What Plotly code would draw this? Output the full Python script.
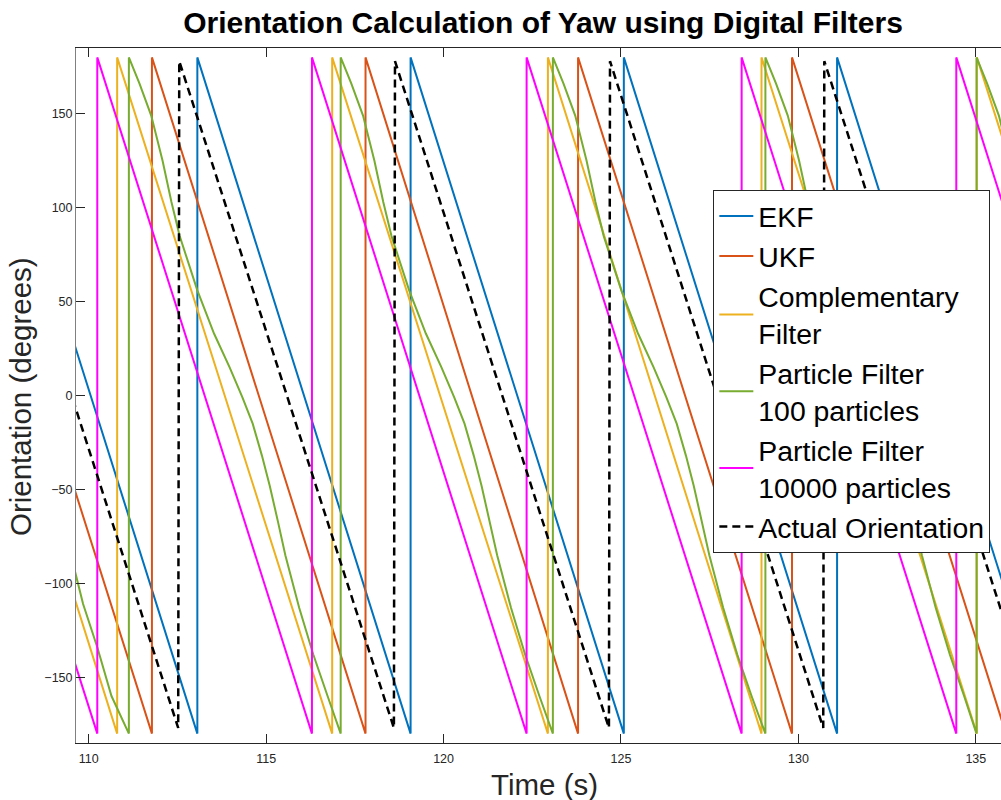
import plotly.graph_objects as go

# ---------------- data ----------------
ekf_t = [109.55, 113.06, 113.06, 119.07, 119.07, 125.08, 125.08, 131.09, 131.09, 137.10]
ekf_y = [30, -180, 180, -180, 180, -180, 180, -180, 180, -180]

ukf_t = [109.55, 111.78, 111.78, 117.80, 117.80, 123.79, 123.79, 129.82, 129.82, 135.85]
ukf_y = [-47, -180, 180, -180, 180, -180, 180, -180, 180, -180]

comp_t = [109.55, 110.80, 110.80, 116.86, 116.86, 122.94, 122.94, 128.96, 128.96, 135.03, 135.03, 141.08]
comp_y = [-105, -180, 180, -180, 180, -180, 180, -180, 180, -180, 180, -180]

pf100_t = [109.55, 109.84, 110.24, 110.64, 111.13,
           111.13, 111.43, 111.76, 112.08, 112.33, 112.56, 113.06, 113.53, 113.97, 114.33, 114.62, 114.88, 115.10, 115.33, 115.54, 115.93, 116.33, 116.73, 117.10,
           117.10, 117.40, 117.73, 118.05, 118.30, 118.53, 119.03, 119.50, 119.94, 120.30, 120.59, 120.85, 121.07, 121.30, 121.51, 121.90, 122.30, 122.70, 123.08,
           123.08, 123.38, 123.71, 124.03, 124.28, 124.51, 125.01, 125.48, 125.92, 126.28, 126.57, 126.83, 127.05, 127.28, 127.49, 127.88, 128.28, 128.68, 129.07,
           129.07, 129.37, 129.70, 130.02, 130.27, 130.50, 131.00, 131.47, 131.91, 132.27, 132.56, 132.82, 133.04, 133.27, 133.48, 133.87, 134.27, 134.67, 135.02,
           135.02, 135.32, 135.65, 135.97, 136.22, 136.45]
pf100_y = [-89, -111, -134, -160, -180,
           180, 166, 149, 125, 103, 85, 56, 33, 15, -1, -15, -32, -48, -67, -85, -113, -138, -160, -180,
           180, 166, 149, 125, 103, 85, 56, 33, 15, -1, -15, -32, -48, -67, -85, -113, -138, -160, -180,
           180, 166, 149, 125, 103, 85, 56, 33, 15, -1, -15, -32, -48, -67, -85, -113, -138, -160, -180,
           180, 166, 149, 125, 103, 85, 56, 33, 15, -1, -15, -32, -48, -67, -85, -113, -138, -160, -180,
           180, 166, 149, 125, 103, 85]

pf10k_t = [109.55, 110.24, 110.24, 116.29, 116.29, 122.34, 122.34, 128.40, 128.40, 134.45, 134.45, 140.50]
pf10k_y = [-139, -180, 180, -180, 180, -180, 180, -180, 180, -180, 180, -180]

act_t = [109.55, 112.52, 112.55, 118.60, 118.63, 124.66, 124.69, 130.70, 130.73, 136.78]
act_y = [-2, -177, 178, -177, 178, -177, 178, -177, 178, -177]

x_ticks = [110, 115, 120, 125, 130, 135]
y_ticks = [-150, -100, -50, 0, 50, 100, 150]

series = [
    ("EKF", ekf_t, ekf_y, "#0072BD", "solid", 2),
    ("UKF", ukf_t, ukf_y, "#D95319", "solid", 2),
    ("Complementary<br>Filter", comp_t, comp_y, "#EDB120", "solid", 2),
    ("Particle Filter<br>100 particles", pf100_t, pf100_y, "#77AC30", "solid", 2),
    ("Particle Filter<br>10000 particles", pf10k_t, pf10k_y, "#FF00FF", "solid", 2),
    ("Actual Orientation", act_t, act_y, "#000000", "8px,5px", 2.5),
]

FONT = "Liberation Sans, Arial, sans-serif"

fig = go.Figure()
for name, t, y, c, d, w in series:
    fig.add_trace(go.Scatter(x=t, y=y, mode="lines", name=name,
                             line=dict(color=c, width=w, dash=d)))

fig.update_layout(
    width=1001, height=800,
    margin=dict(l=76, r=0, t=48, b=57),
    paper_bgcolor="white", plot_bgcolor="white",
    font=dict(family=FONT, color="#262626"),
    title=dict(text="<b>Orientation Calculation of Yaw using Digital Filters</b>",
               x=0.5425, xref="container", xanchor="center",
               y=0.972, yref="container", yanchor="middle",
               font=dict(family=FONT, size=30, color="#000000")),
    showlegend=True,
    legend=dict(x=0.689, y=0.7955, xanchor="left", yanchor="top",
                bgcolor="white", bordercolor="#262626", borderwidth=1,
                itemwidth=34,
                font=dict(family=FONT, size=28.4, color="#000000"),
                tracegroupgap=0),
    xaxis=dict(range=[109.64, 135.71], tickvals=x_ticks, ticks="inside", ticklen=9,
               tickcolor="#262626", showline=True, linecolor="#262626", linewidth=1,
               mirror="ticks", showgrid=False, zeroline=False, ticklabelstandoff=4,
               tickfont=dict(family=FONT, size=12.5, color="#262626")),
    yaxis=dict(range=[-185, 185], tickvals=y_ticks, ticks="inside", ticklen=9,
               tickcolor="#262626", showline=True, linecolor="#808080", linewidth=1,
               showgrid=False, zeroline=False,
               tickfont=dict(family=FONT, size=12.5, color="#262626")),
    annotations=[
        dict(text="Time (s)", xref="paper", yref="paper", x=0.506, y=-0.0604,
             xanchor="center", yanchor="middle", showarrow=False,
             font=dict(family=FONT, size=29.5, color="#262626")),
        dict(text="Orientation (degrees)", xref="paper", yref="paper", x=-0.0605, y=0.4978,
             xanchor="center", yanchor="middle", textangle=-90, showarrow=False,
             font=dict(family=FONT, size=29.5, color="#262626")),
    ],
)

fig.write_html("out.html")
